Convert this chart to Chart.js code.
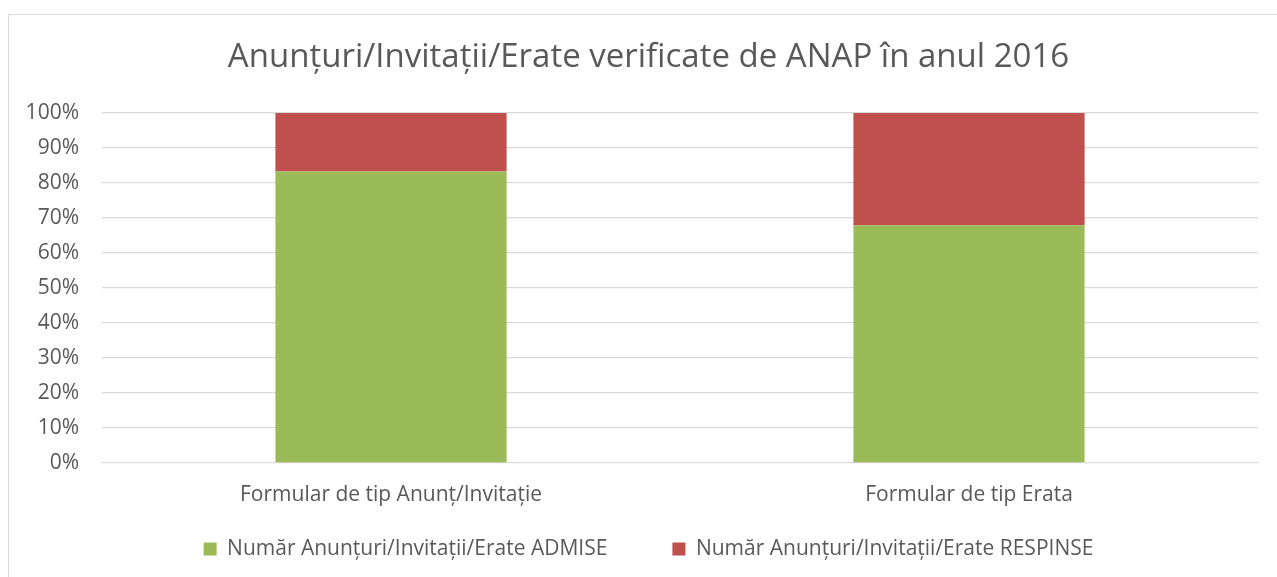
<!DOCTYPE html>
<html>
<head>
<meta charset="utf-8">
<script src="https://cdn.jsdelivr.net/npm/chart.js@4/dist/chart.umd.min.js"></script>
<style>
  html, body { margin: 0; padding: 0; background: #fff; }
  #wrap { position: relative; width: 1277px; height: 577px; overflow: hidden; }
  #frame { position: absolute; left: 8px; top: 14px; width: 1300px; height: 600px; border: 1px solid #d9d9d9; box-sizing: border-box; }
  canvas { position: absolute; left: 0; top: 0; }
</style>
</head>
<body>
<div id="wrap">
  <div id="frame"></div>
  <canvas id="c" width="1277" height="577"></canvas>
</div>
<script>
const titleText = 'Anunțuri/Invitații/Erate verificate de ANAP în anul 2016';
const categories = ['Formular de tip Anunț/Invitație', 'Formular de tip Erata'];
const seriesNames = ['Număr Anunțuri/Invitații/Erate ADMISE', 'Număr Anunțuri/Invitații/Erate RESPINSE'];
const admise = [83.3, 67.9];
const respinse = [16.7, 32.1];
const yTicks = [0, 10, 20, 30, 40, 50, 60, 70, 80, 90, 100];

const FONT = "'Open Sans', 'DejaVu Sans', sans-serif";
const TXT = '#595959';

// let tick labels draw outside their (fixed-size) axis boxes
const noLabelClip = s => { s._computeLabelArea = () => undefined; };

new Chart(document.getElementById('c'), {
  type: 'bar',
  data: {
    labels: categories,
    datasets: [
      { label: seriesNames[0], data: admise, backgroundColor: '#9BBB59', borderWidth: 0 },
      { label: seriesNames[1], data: respinse, backgroundColor: '#C0504D', borderWidth: 0 }
    ]
  },
  options: {
    responsive: false,
    animation: false,
    layout: { padding: { left: 39, right: 19, top: 0, bottom: 7.5 } },
    datasets: { bar: { barPercentage: 0.4, categoryPercentage: 1.0 } },
    plugins: {
      tooltip: { enabled: false },
      title: {
        display: true,
        text: titleText,
        color: TXT,
        font: { family: FONT, size: 33, weight: 'normal' },
        padding: { top: 38, bottom: 35.4 }
      },
      legend: {
        position: 'bottom',
        labels: {
          color: TXT,
          font: { family: FONT, size: 21 },
          boxWidth: 13,
          boxHeight: 13,
          padding: 65
        }
      }
    },
    scales: {
      x: {
        stacked: true,
        grid: { display: false, drawTicks: false },
        border: { display: false },
        ticks: { color: TXT, font: { family: FONT, size: 21 }, padding: 19 },
        afterFit: s => { s.height = 10.5; noLabelClip(s); }
      },
      y: {
        stacked: true,
        min: 0,
        max: 100,
        afterBuildTicks: s => { s.ticks = yTicks.map(v => ({ value: v })); },
        grid: { color: '#D9D9D9', lineWidth: 1.3, drawTicks: false },
        border: { display: false },
        ticks: { color: TXT, font: { family: FONT, size: 21 }, padding: 23, callback: v => v + '%' },
        afterFit: s => { s.width = 63; noLabelClip(s); }
      }
    }
  }
});
</script>
</body>
</html>
